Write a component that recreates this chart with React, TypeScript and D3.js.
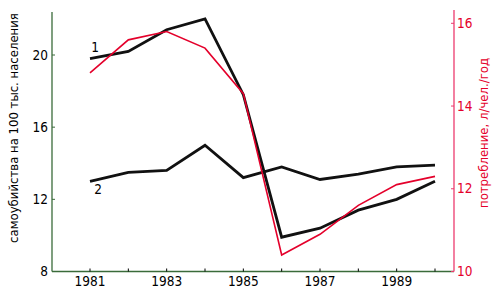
import React from "react";
import * as d3 from "d3";

const years = [1981, 1982, 1983, 1984, 1985, 1986, 1987, 1988, 1989, 1990];
const suicides1 = [19.8, 20.2, 21.4, 22.0, 17.8, 9.9, 10.4, 11.4, 12.0, 13.0];
const suicides2 = [13.0, 13.5, 13.6, 15.0, 13.2, 13.8, 13.1, 13.4, 13.8, 13.9];
const alcohol = [14.8, 15.6, 15.8, 15.4, 14.3, 10.4, 10.9, 11.6, 12.1, 12.3];
const leftTicks = [8, 12, 16, 20];
const rightTicks = [10, 12, 14, 16];
const xTickLabels = [1981, 1983, 1985, 1987, 1989];

const W = 500, H = 300;
const FONT = "'Liberation Sans Narrow', 'DejaVu Sans Condensed', 'Liberation Sans', sans-serif";

export default function App() {
  const x = d3.scaleLinear().domain([1981, 1990]).range([90, 435]);
  const yL = d3.scaleLinear().domain([8, 20]).range([271.5, 55]);
  const yR = d3.scaleLinear().domain([10, 16]).range([271.5, 23.3]);
  const axL = 52, axR = 454, axB = 271.5;

  const lineL = d3.line<number>().x((_, i) => x(years[i])).y((d) => yL(d));
  const lineR = d3.line<number>().x((_, i) => x(years[i])).y((d) => yR(d));
  const red = "#e4002b";
  const pink = "#ec3b6e";
  const green = "#3a6b3a";

  return (
    <svg width={W} height={H} style={{ position: "absolute", left: 0, top: 0, background: "#fff" }} fontFamily={FONT}>
      {/* left axis */}
      <line x1={axL} y1={12} x2={axL} y2={axB} stroke={green} strokeWidth={1.3} />
      {leftTicks.map((t) => (
        <g key={"l" + t}>
          <line x1={axL} x2={axL + 3} y1={yL(t)} y2={yL(t)} stroke={green} strokeWidth={1} />
          <text x={axL - 4} y={yL(t)} dy="0.35em" textAnchor="end" fontSize={13.5} fill="#000">{t}</text>
        </g>
      ))}
      {/* bottom axis */}
      <line x1={axL} y1={axB} x2={axR} y2={axB} stroke={green} strokeWidth={1.3} />
      {years.map((yr) => (
        <line key={"xt" + yr} x1={x(yr)} x2={x(yr)} y1={axB} y2={axB - 3} stroke="#000" strokeWidth={1} />
      ))}
      {xTickLabels.map((yr) => (
        <text key={"xl" + yr} x={x(yr)} y={axB + 14} textAnchor="middle" fontSize={13.5} fill="#000">{yr}</text>
      ))}
      {/* right axis */}
      <line x1={axR} y1={10} x2={axR} y2={axB} stroke={pink} strokeWidth={1.3} />
      {rightTicks.map((t) => (
        <g key={"r" + t}>
          <line x1={axR - 3} x2={axR} y1={yR(t)} y2={yR(t)} stroke={pink} strokeWidth={1} />
          <text x={axR + 3} y={yR(t)} dy="0.35em" textAnchor="start" fontSize={13.5} fill={red}>{t}</text>
        </g>
      ))}
      {/* lines */}
      <path d={lineL(suicides2) || ""} fill="none" stroke="#111" strokeWidth={2.8} strokeLinejoin="miter" />
      <path d={lineL(suicides1) || ""} fill="none" stroke="#111" strokeWidth={2.8} strokeLinejoin="miter" />
      <path d={lineR(alcohol) || ""} fill="none" stroke={red} strokeWidth={1.6} strokeLinejoin="miter" />
      {/* labels */}
      <text x={95} y={52} fontSize={13.5} fill="#000" textAnchor="middle">1</text>
      <text x={98} y={194} fontSize={13.5} fill="#000" textAnchor="middle">2</text>
      {/* axis titles */}
      <text transform={`translate(18,128) rotate(-90)`} textAnchor="middle" fontSize={13} fill="#000">самоубийства на 100 тыс. населения</text>
      <text transform={`translate(488,133) rotate(-90)`} textAnchor="middle" fontSize={13} fill={red}>потребление, л/чел./год</text>
    </svg>
  );
}
